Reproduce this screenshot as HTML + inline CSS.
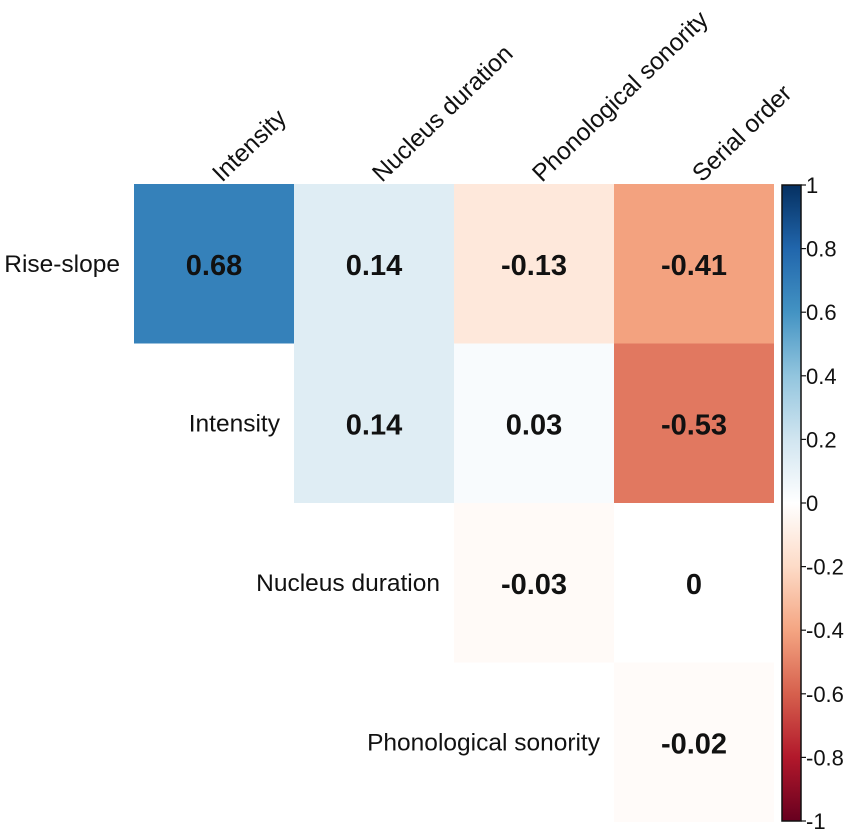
<!DOCTYPE html>
<html><head><meta charset="utf-8"><style>
html,body{margin:0;padding:0;background:#fff;}
svg{display:block;font-family:"Liberation Sans",Arial,sans-serif;}
</style></head><body>
<svg id="chart" width="850" height="839"></svg>
<script>
const rowLabels=["Rise-slope","Intensity","Nucleus duration","Phonological sonority"];
const colLabels=["Intensity","Nucleus duration","Phonological sonority","Serial order"];
const row0=[0.68,0.14,-0.13,-0.41];
const row1=[null,0.14,0.03,-0.53];
const row2=[null,null,-0.03,0];
const row3=[null,null,null,-0.02];
const values=[row0,row1,row2,row3];
const legendTicks=[1,0.8,0.6,0.4,0.2,0,-0.2,-0.4,-0.6,-0.8,-1];
const palette=["#67001F","#B2182B","#D6604D","#F4A582","#FDDBC7","#FFFFFF","#D1E5F0","#92C5DE","#4393C3","#2166AC","#053061"];

const NS="http://www.w3.org/2000/svg";
const svg=document.getElementById("chart");
const x0=134,cw=160,y0=184,ch=159.5;
const xPos=i=>x0+i*cw;
const yPos=j=>y0+j*ch;
const cbX=782,cbW=19,cbTop=185,cbBot=821;
const cbY=v=>cbTop+(1-v)/2*(cbBot-cbTop);
function hex(h){return [1,3,5].map(k=>parseInt(h.substr(k,2),16));}
function color(v){
  const t=(v+1)/2*(palette.length-1);
  const i=Math.min(Math.floor(t),palette.length-2);const f=t-i;
  const a=hex(palette[i]),b=hex(palette[i+1]);
  return "rgb("+a.map((c,k)=>Math.round(c+(b[k]-c)*f)).join(",")+")";
}
function el(tag,attrs,parent){const e=document.createElementNS(NS,tag);for(const k in attrs)e.setAttribute(k,attrs[k]);(parent||svg).appendChild(e);return e;}

values.forEach((row,j)=>{
  row.forEach((v,i)=>{
    if(v===null)return;
    const r=el("rect",{x:xPos(i),y:yPos(j),width:cw,height:ch,fill:color(v)});
    
    
    const t=el("text",{x:xPos(i)+cw/2,y:yPos(j)+ch/2+11,"text-anchor":"middle","font-size":"29","font-weight":"bold",fill:"#111"});
    t.textContent=String(v);
    
    
  });
});
rowLabels.forEach((lab,j)=>{
  const t=el("text",{x:xPos(j)-14,y:yPos(j)+ch/2+8,"text-anchor":"end","font-size":"24.5",fill:"#111"});
  t.textContent=lab;
  
  
});
colLabels.forEach((lab,i)=>{
  const cx=xPos(i)+cw/2+8,cy=183;
  const t=el("text",{x:cx,y:cy,"font-size":"24.5",fill:"#111",transform:"rotate(-44 "+cx+" "+cy+")"});
  t.textContent=lab;
  
  
});
// colorbar
const defs=el("defs",{});
const g=el("linearGradient",{id:"cbg",x1:"0",y1:"0",x2:"0",y2:"1"},defs);
palette.slice().reverse().forEach((c,k)=>el("stop",{offset:(k/(palette.length-1)),"stop-color":c},g));
const cb=el("rect",{x:cbX,y:cbTop,width:cbW,height:cbBot-cbTop,fill:"url(#cbg)",stroke:"#111","stroke-width":"1.5"});


legendTicks.forEach(v=>{
  const y=cbY(v);
  el("line",{x1:cbX+cbW,x2:cbX+cbW+5,y1:y,y2:y,stroke:"#111","stroke-width":"1.2"});
  const t=el("text",{x:cbX+cbW+5,y:y+8,"font-size":"22",fill:"#111"});
  t.textContent=String(v);
  
  
});
</script>
</body></html>
